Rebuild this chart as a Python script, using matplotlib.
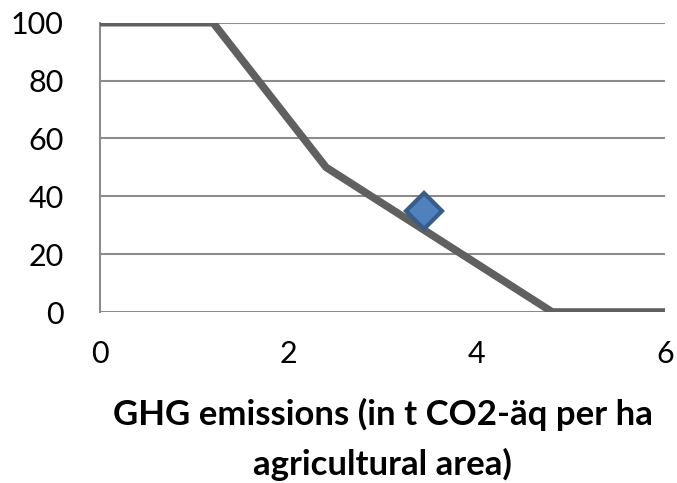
import numpy as np
import matplotlib
matplotlib.use('Agg')
import matplotlib.pyplot as plt

# Data
line_x = [0, 1.2, 2.4, 4.8, 6]
line_y = [100, 100, 50, 0, 0]
point_x = [3.44]
point_y = [35]
x_ticks = [0, 2, 4, 6]
y_ticks = [0, 20, 40, 60, 80, 100]

plt.rcParams['font.family'] = ['Lato', 'DejaVu Sans']

fig = plt.figure(figsize=(6.77, 4.83), dpi=100)
ax = fig.add_axes([0.1477, 0.354, 0.835, 0.599])

# Gridlines
for y in y_ticks:
    ax.axhline(y, color='#8c8c8c', lw=1.5, zorder=1)

ax.plot(line_x, line_y, color='#606060', lw=5.5, solid_capstyle='butt', zorder=3)
ax.plot(point_x, point_y, marker='D', ms=18, color='#4f81bd', mec='#385d8a', mew=3,
        ls='none', zorder=4)

ax.set_xlim(0, 6)
ax.set_ylim(0, 100)
ax.set_xticks(x_ticks)
ax.set_yticks(y_ticks)
ax.tick_params(length=0, labelsize=22)
ax.tick_params(axis='y', pad=26)
ax.tick_params(axis='x', pad=20)

for s in ['top', 'right', 'bottom']:
    ax.spines[s].set_visible(False)
ax.spines['left'].set_color('#8c8c8c')
ax.spines['left'].set_linewidth(1.5)

ax.set_xlabel('GHG emissions (in t CO2-äq per ha\nagricultural area)', fontsize=25,
              fontweight='bold', labelpad=22, linespacing=1.6)

fig.savefig('out.png', dpi=100)
